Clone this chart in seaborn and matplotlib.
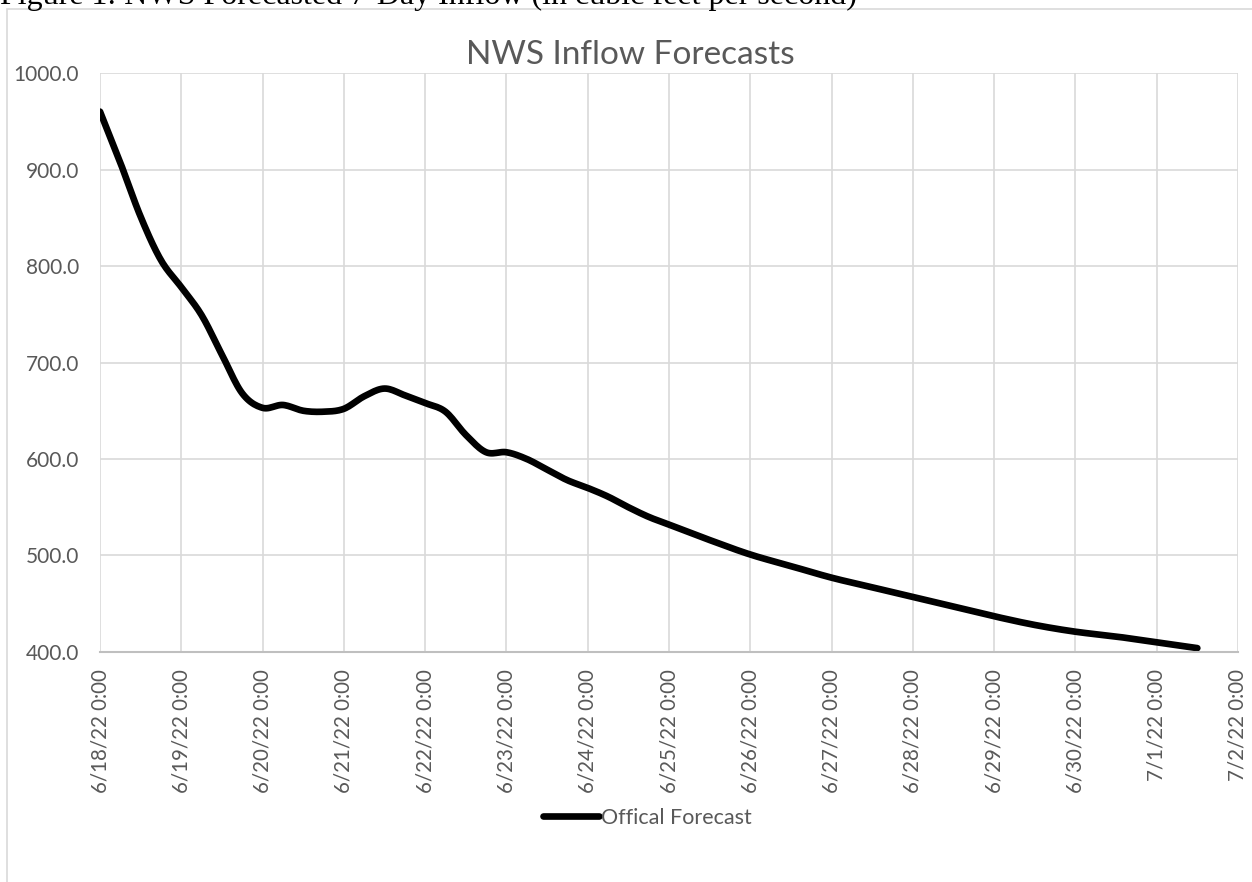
import numpy as np
import pandas as pd
import seaborn as sns
import matplotlib.pyplot as plt
import matplotlib.dates as mdates
from matplotlib.patches import Rectangle

# forecast values (cfs), hours after 6/18/22 0:00
forecast_hours = [0, 6, 12, 18, 24, 30, 36, 42, 48, 54, 60, 66, 72, 78, 84, 90,
                  96, 102, 108, 114, 120, 126, 132, 138, 144, 150, 156, 162,
                  168, 180, 192, 204, 216, 228, 240, 252, 264, 276, 288, 300, 312, 324]
inflow_cfs = [960, 907, 851, 806, 778, 749, 708, 668, 653, 656, 650, 649, 652, 665, 673, 666,
              658, 649, 625, 607, 607, 600, 589, 578, 570, 561, 550, 540,
              532, 516, 501, 489, 477, 467, 457, 447, 437, 428, 421, 416, 410, 404]
series_name = "Offical Forecast"
chart_title = "NWS Inflow Forecasts"
caption = "Figure 1: NWS Forecasted 7-Day Inflow (in cubic feet per second)"
y_ticks = [400, 500, 600, 700, 800, 900, 1000]


def smooth(xs, ys, n=12):
    # Catmull-Rom curve through the points, like Excel's "smoothed line"
    x = np.asarray(xs, float)
    y = np.asarray(ys, float)
    px = np.concatenate([[2 * x[0] - x[1]], x, [2 * x[-1] - x[-2]]])
    py = np.concatenate([[2 * y[0] - y[1]], y, [2 * y[-1] - y[-2]]])
    t = np.linspace(0, 1, n, endpoint=False)[:, None]
    out_x, out_y = [], []
    for i in range(1, len(px) - 2):
        for p, out in ((px, out_x), (py, out_y)):
            p0, p1, p2, p3 = p[i - 1], p[i], p[i + 1], p[i + 2]
            seg = 0.5 * (2 * p1 + (-p0 + p2) * t + (2 * p0 - 5 * p1 + 4 * p2 - p3) * t ** 2
                         + (-p0 + 3 * p1 - 3 * p2 + p3) * t ** 3)
            out.extend(seg.ravel())
    out_x.append(x[-1])
    out_y.append(y[-1])
    return np.array(out_x), np.array(out_y)


start = pd.Timestamp("2022-06-18 00:00")
hx, fy = smooth(forecast_hours, inflow_cfs)
df = pd.DataFrame({
    "time": start + pd.to_timedelta(hx, unit="h"),
    "flow": fy,
    "series": series_name,
})

sns.set_style("white")
plt.rcParams['font.family'] = ['Lato', 'DejaVu Sans']
gray = '#595959'

fig = plt.figure(figsize=(12.52, 8.82), dpi=100)
ax = fig.add_axes([0.0799, 0.2608, 0.9089, 0.6564])

sns.lineplot(data=df, x="time", y="flow", hue="series", palette=["black"], sort=False,
             linewidth=4.8, ax=ax, solid_capstyle='round')

ax.set_xlim(start, start + pd.Timedelta(days=14))
ax.set_ylim(400, 1000)
ax.set_yticks(y_ticks)
ax.yaxis.set_major_formatter(plt.FuncFormatter(lambda v, p: f"{v:.1f}"))
ax.xaxis.set_major_locator(mdates.DayLocator())
ax.xaxis.set_major_formatter(plt.FuncFormatter(
    lambda v, p: (lambda d: f"{d.month}/{d.day}/{d:%y} 0:00")(mdates.num2date(v))))
ax.tick_params(axis='x', labelrotation=90, labelsize=14.8, colors=gray, length=0, pad=12)
ax.tick_params(axis='y', labelsize=15, colors=gray, length=0, pad=15)

ax.grid(True, color='#d9d9d9', linewidth=1.2)
for s in ['left', 'right', 'top']:
    ax.spines[s].set_visible(False)
ax.spines['bottom'].set_color('#bfbfbf')
ax.spines['bottom'].set_linewidth(1.5)
ax.set_xlabel("")
ax.set_ylabel("")

fig.text(630 / 1252, 1 - 64 / 882, chart_title, fontsize=24, color=gray,
         ha='center', va='baseline')

leg = ax.legend(loc='center', bbox_to_anchor=(647 / 1252, 1 - 818 / 882),
                bbox_transform=fig.transFigure, frameon=False,
                fontsize=15.5, handlelength=2.6, handletextpad=0.1)
for t in leg.get_texts():
    t.set_color(gray)

# chart border and the clipped caption above it
fig.add_artist(Rectangle((7 / 1252, -0.01), 1.0, 1 - 8.5 / 882 + 0.01, transform=fig.transFigure,
                         fill=False, edgecolor='#d9d9d9', linewidth=1.2))
fig.text(0.0, 1 - 4 / 882, caption, fontsize=23, family='Liberation Serif',
         color='black', va='baseline', ha='left')

plt.savefig("out.png", dpi=100)
